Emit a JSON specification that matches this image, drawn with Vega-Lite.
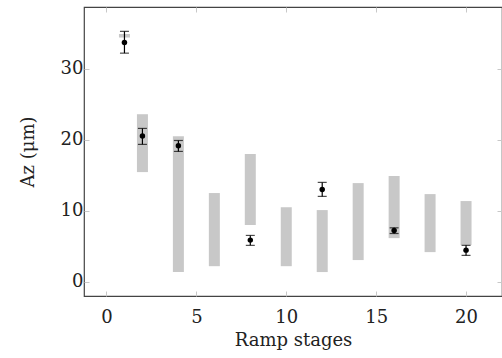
{
  "$schema": "https://vega.github.io/schema/vega-lite/v6.json",
  "autosize": "none",
  "width": 418,
  "height": 289,
  "padding": {"left": 84, "top": 7, "right": 0, "bottom": 62},
  "background": "white",
  "config": {
    "view": {"stroke": "#444", "strokeWidth": 1.2},
    "axis": {
      "domain": false,
      "grid": false,
      "tickColor": "#c8c8c8",
      "tickSize": -5,
      "tickWidth": 1,
      "labelFont": "DejaVu Serif",
      "labelFontSize": 18,
      "labelColor": "#222",
      "titleFont": "DejaVu Serif",
      "titleFontSize": 18,
      "titleFontWeight": "normal",
      "titleColor": "#222"
    }
  },
  "datasets": {
    "ranges": [
      {"stage": 1, "lo": 34.4, "hi": 34.9},
      {"stage": 2, "lo": 15.45, "hi": 23.6},
      {"stage": 4, "lo": 1.37, "hi": 20.5},
      {"stage": 6, "lo": 2.2, "hi": 12.5},
      {"stage": 8, "lo": 8.0, "hi": 18.0},
      {"stage": 10, "lo": 2.2, "hi": 10.5},
      {"stage": 12, "lo": 1.37, "hi": 10.1},
      {"stage": 14, "lo": 3.06, "hi": 13.9},
      {"stage": 16, "lo": 6.15, "hi": 14.9},
      {"stage": 18, "lo": 4.18, "hi": 12.35},
      {"stage": 20, "lo": 5.17, "hi": 11.37}
    ],
    "points": [
      {"stage": 1, "az": 33.7, "lo": 32.2, "hi": 35.27},
      {"stage": 2, "az": 20.52, "lo": 19.35, "hi": 21.6},
      {"stage": 4, "az": 19.15, "lo": 18.36, "hi": 19.9},
      {"stage": 8, "az": 5.87, "lo": 5.13, "hi": 6.53},
      {"stage": 12, "az": 13.0, "lo": 12.03, "hi": 14.0},
      {"stage": 16, "az": 7.24, "lo": 6.8, "hi": 7.6},
      {"stage": 20, "az": 4.46, "lo": 3.72, "hi": 5.13}
    ]
  },
  "layer": [
    {
      "data": {"name": "ranges"},
      "mark": {"type": "bar", "color": "#c8c8c8", "width": 11},
      "encoding": {
        "x": {"field": "stage", "type": "quantitative",
              "scale": {"domain": [-1.25, 22], "nice": false, "zero": false, "padding": 0},
              "axis": {"orient": "bottom", "values": [0, 5, 10, 15, 20], "title": "Ramp stages", "labelPadding": 17, "titlePadding": 5}},
        "y": {"field": "lo", "type": "quantitative",
              "scale": {"domain": [-2, 38.7], "nice": false, "zero": false, "padding": 0},
              "axis": {"orient": "left", "values": [0, 10, 20, 30], "title": "Az (μm)", "labelPadding": 6, "titlePadding": 23}},
        "y2": {"field": "hi"}
      }
    },
    {
      "data": {"name": "points"},
      "mark": {"type": "rule", "color": "black", "strokeWidth": 1.2},
      "encoding": {
        "x": {"field": "stage", "type": "quantitative",
              "axis": {"orient": "top", "values": [0, 5, 10, 15, 20], "labels": false, "title": null}},
        "y": {"field": "lo", "type": "quantitative",
              "axis": {"orient": "right", "values": [0, 10, 20, 30], "labels": false, "title": null}},
        "y2": {"field": "hi"}
      }
    },
    {
      "data": {"name": "points"},
      "mark": {"type": "tick", "orient": "horizontal", "color": "black", "size": 9, "thickness": 1.2},
      "encoding": {
        "x": {"field": "stage", "type": "quantitative", "axis": null},
        "y": {"field": "lo", "type": "quantitative", "axis": null}
      }
    },
    {
      "data": {"name": "points"},
      "mark": {"type": "tick", "orient": "horizontal", "color": "black", "size": 9, "thickness": 1.2},
      "encoding": {
        "x": {"field": "stage", "type": "quantitative", "axis": null},
        "y": {"field": "hi", "type": "quantitative", "axis": null}
      }
    },
    {
      "data": {"name": "points"},
      "mark": {"type": "point", "filled": true, "color": "black", "size": 30, "opacity": 1},
      "encoding": {
        "x": {"field": "stage", "type": "quantitative", "axis": null},
        "y": {"field": "az", "type": "quantitative", "axis": null}
      }
    }
  ]
}
